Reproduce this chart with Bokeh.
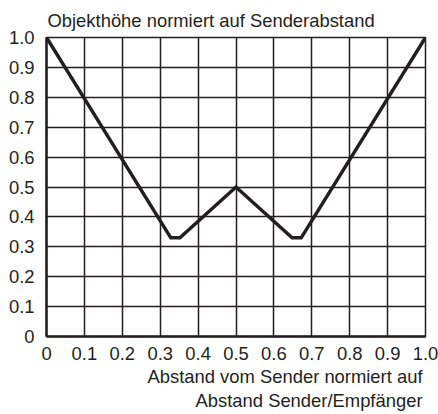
from bokeh.plotting import figure
from bokeh.models import Range1d, FixedTicker, Title
from bokeh.embed import file_html
from bokeh.resources import INLINE

# ---- data ----
x_vals = [0.0, 0.328, 0.352, 0.5, 0.648, 0.672, 1.0]
y_vals = [1.0, 0.33, 0.33, 0.5, 0.33, 0.33, 1.0]

x_ticks = [0.0, 0.1, 0.2, 0.3, 0.4, 0.5, 0.6, 0.7, 0.8, 0.9, 1.0]
x_tick_labels = ["0", "0.1", "0.2", "0.3", "0.4", "0.5", "0.6", "0.7", "0.8", "0.9", "1.0"]
y_ticks = [0.0, 0.1, 0.2, 0.3, 0.4, 0.5, 0.6, 0.7, 0.8, 0.9, 1.0]
y_tick_labels = ["0", "0.1", "0.2", "0.3", "0.4", "0.5", "0.6", "0.7", "0.8", "0.9", "1.0"]

title_text = "Objekthöhe normiert auf Senderabstand"
x_label_lines = ["Abstand vom Sender normiert auf", "Abstand Sender/Empfänger"]

FONT = "Liberation Sans"
INK = "#231f20"
FS = "18.4px"

p = figure(width=438, height=414, output_backend="svg", toolbar_location=None,
           x_range=Range1d(0, 1), y_range=Range1d(0, 1),
           min_border_left=46, min_border_right=13, min_border_top=36, min_border_bottom=78)
p.background_fill_color = "white"
p.border_fill_color = "white"
p.outline_line_color = INK
p.outline_line_width = 1.5

p.title.text = title_text
p.title.align = "left"
p.title.offset = 1
p.title.standoff = 14
p.title.text_font = FONT
p.title.text_font_size = FS
p.title.text_font_style = "normal"
p.title.text_color = INK

for ax, ticks, labels in ((p.xaxis[0], x_ticks, x_tick_labels), (p.yaxis[0], y_ticks, y_tick_labels)):
    ax.ticker = FixedTicker(ticks=ticks)
    ax.major_label_overrides = {t: l for t, l in zip(ticks, labels)}
    ax.major_tick_out = 0
    ax.major_tick_in = 0
    ax.minor_tick_out = 0
    ax.minor_tick_in = 0
    ax.axis_line_color = INK
    ax.axis_line_width = 2.5
    ax.major_label_text_font = FONT
    ax.major_label_text_font_size = FS
    ax.major_label_text_color = INK

p.xaxis.major_label_standoff = 10
p.yaxis.major_label_standoff = 12

p.xgrid.ticker = FixedTicker(ticks=x_ticks)
p.ygrid.ticker = FixedTicker(ticks=y_ticks)
p.grid.grid_line_color = INK
p.grid.grid_line_width = 1.5
p.grid.grid_line_alpha = 1.0

p.line(x_vals, y_vals, line_color=INK, line_width=3.5, line_join="miter")

for txt, so in zip(x_label_lines, (2, 0)):
    p.add_layout(Title(text=txt, align="right", offset=3, standoff=so,
                       text_font=FONT, text_font_size=FS, text_font_style="normal",
                       text_color=INK), "below")

open("out.html", "w").write(file_html(p, INLINE))
